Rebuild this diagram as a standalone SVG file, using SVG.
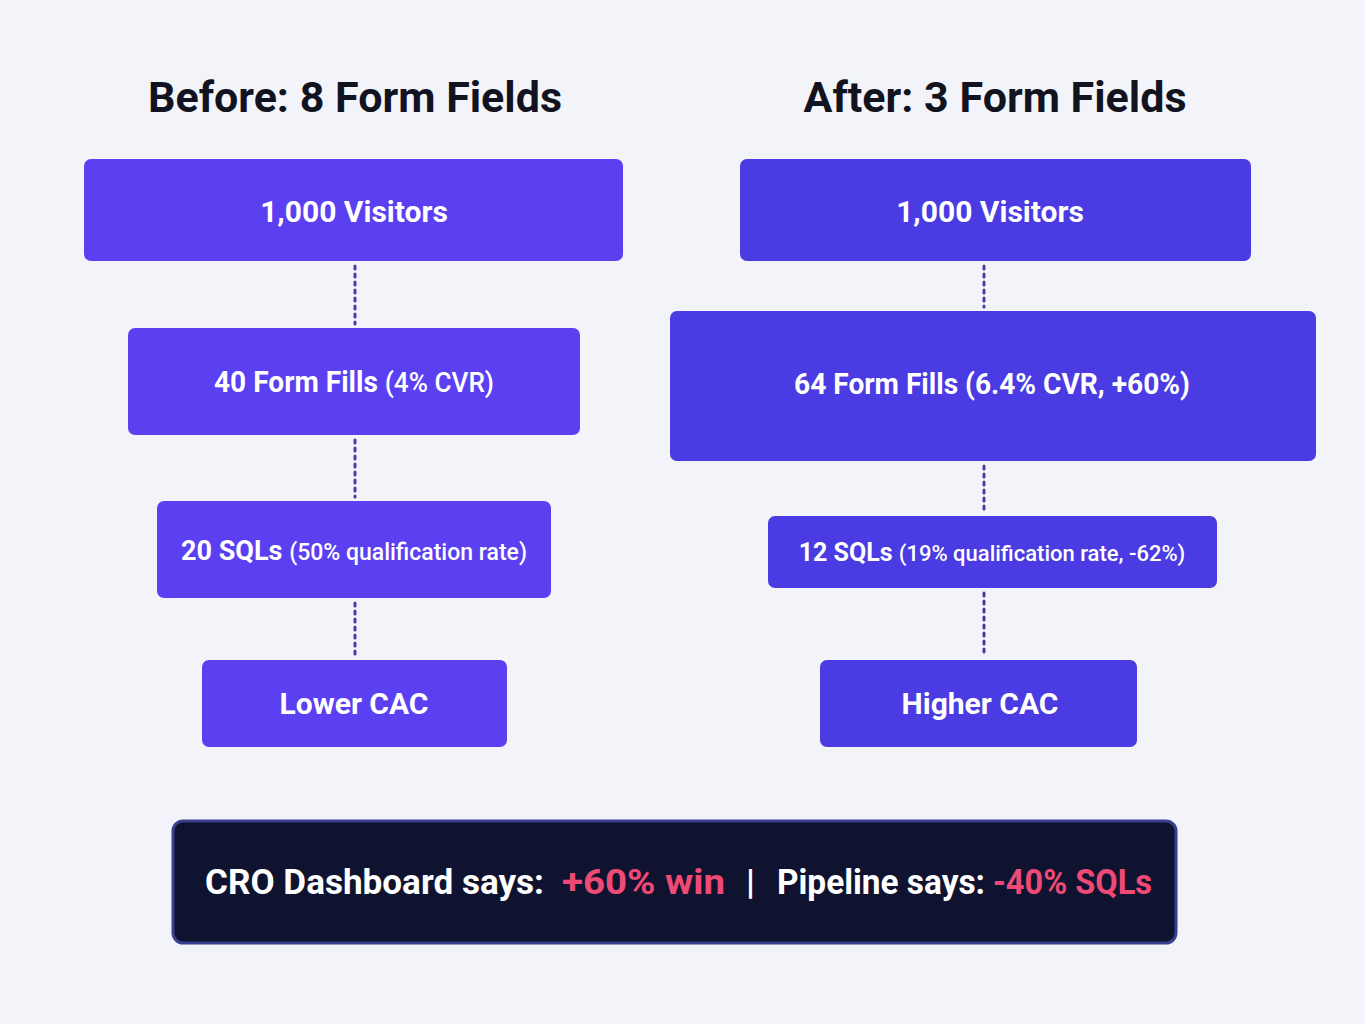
<svg xmlns="http://www.w3.org/2000/svg" width="1365" height="1024" viewBox="0 0 1365 1024">
<style>
.bg{fill:#f3f4fa}
.title{font-family:Roboto,"Liberation Sans",sans-serif;font-weight:700;font-size:43px;fill:#111320;text-anchor:middle}
.l{fill:#5b40f2}
.r{fill:#4a3be3}
.t{font-family:Roboto,"Liberation Sans",sans-serif;font-weight:700;fill:#ffffff;text-anchor:middle}
.sub{font-weight:500}
.conn{stroke:#4a3aa8;stroke-width:3;stroke-dasharray:3 5;stroke-linecap:round;fill:none}
.bar{fill:#0f1330;stroke:#3b3f8f;stroke-width:3}
.b{font-family:Roboto,"Liberation Sans",sans-serif;font-weight:700;font-size:35px;fill:#ffffff}
.pink{fill:#ef4a75}
</style>
<rect class="bg" x="0" y="0" width="1365" height="1024"/>
<text class="title" x="355" y="112">Before: 8 Form Fields</text>
<text class="title" x="995" y="112">After: 3 Form Fields</text>
<g id="connectors">
<line class="conn" x1="355" y1="266" x2="355" y2="324"/>
<line class="conn" x1="355" y1="440" x2="355" y2="497"/>
<line class="conn" x1="355" y1="603" x2="355" y2="656"/>
<line class="conn" x1="984" y1="266" x2="984" y2="307"/>
<line class="conn" x1="984" y1="466" x2="984" y2="512"/>
<line class="conn" x1="984" y1="593" x2="984" y2="656"/>
</g>
<g id="before-visitors"><rect class="l" x="84" y="159" width="539" height="102" rx="7"/><text class="t" x="354" y="222" font-size="30">1,000 Visitors</text></g>
<g id="before-fills"><rect class="l" x="128" y="328" width="452" height="107" rx="7"/><text class="t" x="354" y="392" font-size="29" textLength="280" lengthAdjust="spacingAndGlyphs">40 Form Fills <tspan class="sub" font-size="27">(4% CVR)</tspan></text></g>
<g id="before-sqls"><rect class="l" x="157" y="501" width="394" height="97" rx="7"/><text class="t" x="354" y="560" font-size="27">20 SQLs <tspan class="sub" font-size="23">(50% qualification rate)</tspan></text></g>
<g id="before-cac"><rect class="l" x="202" y="660" width="305" height="87" rx="7"/><text class="t" x="354" y="714" font-size="30">Lower CAC</text></g>
<g id="after-visitors"><rect class="r" x="740" y="159" width="511" height="102" rx="7"/><text class="t" x="990" y="222" font-size="30">1,000 Visitors</text></g>
<g id="after-fills"><rect class="r" x="670" y="311" width="646" height="150" rx="7"/><text class="t" x="992" y="394" font-size="29" textLength="396" lengthAdjust="spacingAndGlyphs">64 Form Fills (6.4% CVR, +60%)</text></g>
<g id="after-sqls"><rect class="r" x="768" y="516" width="449" height="72" rx="7"/><text class="t" x="992" y="561" font-size="25">12 SQLs <tspan class="sub" font-size="22">(19% qualification rate, -62%)</tspan></text></g>
<g id="after-cac"><rect class="r" x="820" y="660" width="317" height="87" rx="7"/><text class="t" x="980" y="714" font-size="30">Higher CAC</text></g>
<g id="summary"><rect class="bar" x="173" y="821" width="1003" height="122" rx="10"/>
<text class="b" x="205" y="894" textLength="339" lengthAdjust="spacingAndGlyphs">CRO Dashboard says:</text>
<text class="b pink" x="562" y="894" textLength="163" lengthAdjust="spacingAndGlyphs">+60% win</text>
<text class="b" x="746" y="894">|</text>
<text class="b" x="777" y="894" textLength="208" lengthAdjust="spacingAndGlyphs">Pipeline says:</text>
<text class="b pink" x="993" y="894" textLength="159" lengthAdjust="spacingAndGlyphs">-40% SQLs</text></g>
</svg>
